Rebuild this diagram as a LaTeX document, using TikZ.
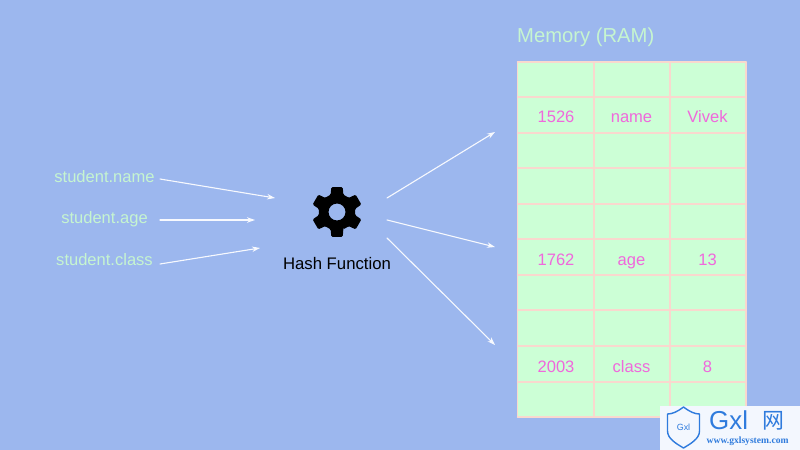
\documentclass[tikz,border=0pt]{standalone}
\usepackage{fontspec}
\setmainfont{Liberation Sans}
\newfontfamily\cjkfont{Noto Sans CJK SC}
\newfontfamily\markfont{Liberation Serif}
\definecolor{bgblue}{HTML}{9CB7EE}
\definecolor{cellgreen}{HTML}{CCFFD6}
\definecolor{gridpink}{HTML}{F9D8CE}
\definecolor{valpink}{HTML}{F068DC}
\definecolor{labelgreen}{HTML}{C6F5D0}
\definecolor{markblue}{HTML}{2F7BDD}
\definecolor{markbg}{HTML}{F3F7FE}
\tikzset{
	keylabel/.style={text=labelgreen, font=\fontsize{16.6}{18}\selectfont, inner sep=0pt, anchor=base},
	cellval/.style={text=valpink, font=\fontsize{16.6}{18}\selectfont, inner sep=0pt, anchor=base},
	hasharrow/.style={draw=white!92!bgblue, line width=1.1pt, -{Stealth[length=8pt,width=5.5pt]}}
}
\usetikzlibrary{arrows.meta}
\begin{document}
\begin{tikzpicture}[x=1bp,y=-1bp,line cap=round,line join=round]
	\fill[bgblue] (0, 0) rectangle (800, 450);
	\useasboundingbox (0, 0) rectangle (800, 450);
	
	% memory table
	\node[text=labelgreen, font=\fontsize{20.3}{22}\selectfont, inner sep=0pt, anchor=base west] (memtitle) at (517, 42.7) {Memory (RAM)};
	\path[fill=cellgreen] (517.5, 62) rectangle (746, 417);
	\foreach \y in {62, 97, 133, 168, 204, 239, 275, 310, 346, 382, 417}
		\draw[gridpink, line width=1.5pt] (517.5, \y) -- (746, \y);
	\foreach \x in {517.5, 594, 670, 746}
		\draw[gridpink, line width=1.5pt] (\x, 62) -- (\x, 417);
	
	\foreach \y/\a/\b/\c/\n in {122.7/1526/name/Vivek/one, 265.5/1762/age/13/two, 372.5/2003/class/8/three} {
		\node[cellval] (addr\n) at (556, \y) {\a};
		\node[cellval] (field\n) at (631.5, \y) {\b};
		\node[cellval] (val\n) at (707.5, \y) {\c};
	}
	
	% keys
	\node[keylabel] (keyname) at (104.5, 182.8) {student.name};
	\node[keylabel] (keyage) at (104.5, 224) {student.age};
	\node[keylabel] (keyclass) at (104.5, 265.7) {student.class};
	
	% gear
	\begin{scope}[shift={(337, 212)}]
		\path[fill=black, even odd rule, rounded corners=1.2bp] (70:18.5)
			\foreach \a in {90, 150, 210, 270, 330, 390} {
				-- (\a-20:18.5) -- (\a-13:25.5) -- (\a+13:25.5) -- (\a+20:18.5)
			} -- cycle
			(0, 0) circle (8.5);
	\end{scope}
	\node[font=\fontsize{16.8}{18}\selectfont, inner sep=0pt, anchor=base] (hashlabel) at (337, 269.5) {Hash Function};
	
	% arrow ends
	\coordinate (in1a) at (160, 179);
	\coordinate (in1b) at (275, 198);
	\coordinate (in2a) at (160, 220);
	\coordinate (in2b) at (255, 220);
	\coordinate (in3a) at (160, 264);
	\coordinate (in3b) at (260, 248);
	\coordinate (out1a) at (387, 198);
	\coordinate (out1b) at (495, 132);
	\coordinate (out2a) at (387, 220);
	\coordinate (out2b) at (495, 247);
	\coordinate (out3a) at (387, 238);
	\coordinate (out3b) at (495, 345);
	\foreach \s/\e in {in1a/in1b, in2a/in2b, in3a/in3b, out1a/out1b, out2a/out2b, out3a/out3b}
		\draw[hasharrow] (\s) -- (\e);
	
	% site mark
	\fill[markbg] (660, 406) rectangle (800, 450);
	\draw[markblue, line width=1.4pt] (683.5, 407) .. controls (677, 412) and (672, 414) .. (667.5, 414) -- (667.5, 431) .. controls (667.5, 439) and (677, 444) .. (683.5, 448) .. controls (690, 444) and (699.5, 439) .. (699.5, 431) -- (699.5, 414) .. controls (695, 414) and (690, 412) .. (683.5, 407) -- cycle;
	\node[text=markblue, font=\fontsize{9}{10}\selectfont, inner sep=0pt] (marksmall) at (683.5, 427.5) {Gxl};
	\node[text=markblue, font=\fontsize{26}{26}\selectfont, inner sep=0pt, anchor=base west] (markbig) at (709, 429) {Gxl};
	\node[text=markblue, font=\cjkfont\fontsize{22}{22}\selectfont, inner sep=0pt, anchor=base west] (markcn) at (762, 428) {网};
	\node[text=markblue, font=\markfont\bfseries\fontsize{9.6}{10}\selectfont, inner sep=0pt, anchor=base west] (markurl) at (706.5, 443) {www.gxlsystem.com};
\end{tikzpicture}
\end{document}
